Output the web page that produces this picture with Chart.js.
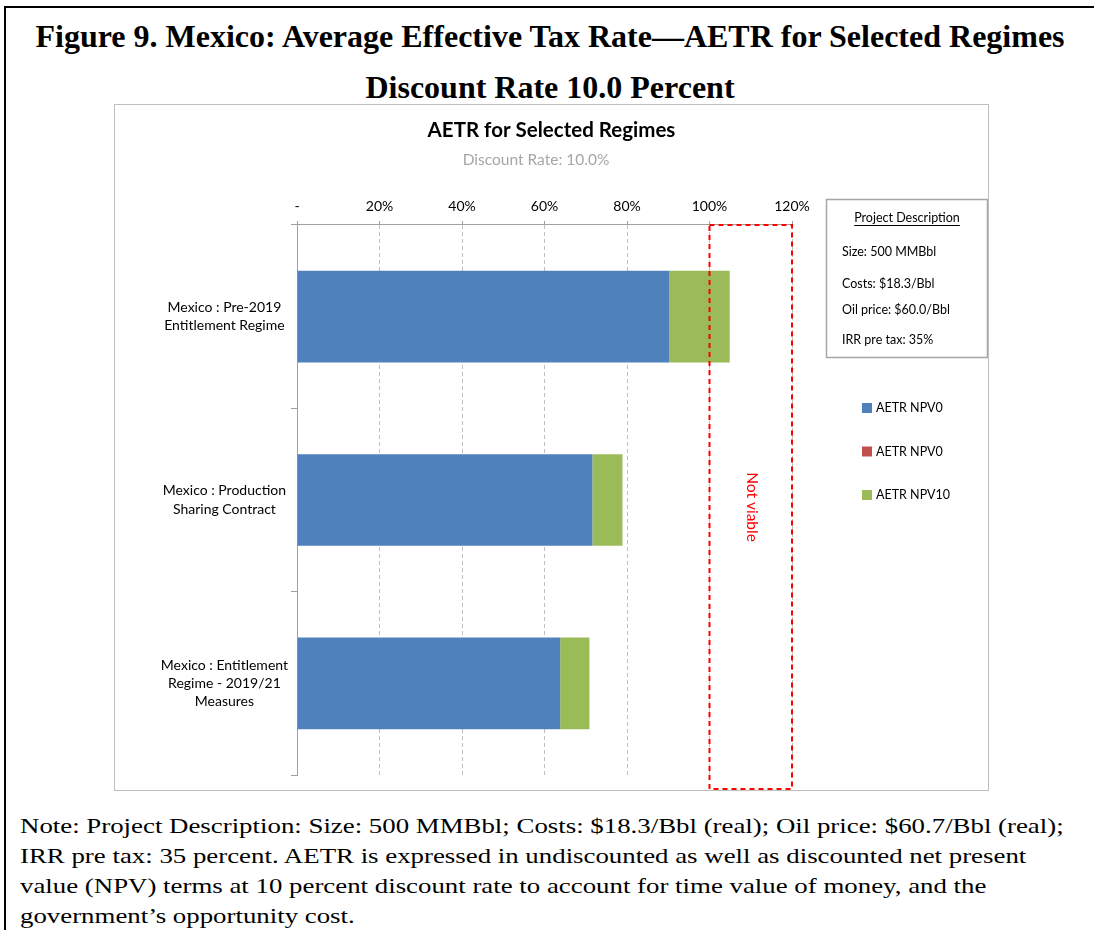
<!DOCTYPE html>
<html>
<head>
<meta charset="utf-8">
<script src="https://cdn.jsdelivr.net/npm/chart.js@4.4.1/dist/chart.umd.min.js"></script>
<style>
    body { margin: 0; background: #fff; width: 1094px; height: 930px; overflow: hidden; position: relative; }
    #frame { position: absolute; left: 4px; top: 6px; width: 1090px; height: 930px; border-top: 2px solid #000; border-left: 2px solid #000; }
    .fig-title { position: absolute; left: 0; width: 1100px; text-align: center; font-family: "Liberation Serif", "Times New Roman", serif; font-weight: bold; font-size: 32px; color: #000; }
    #chartBox { position: absolute; left: 114px; top: 104px; width: 873px; height: 685px; border: 1px solid #bfbfbf; }
    #note { position: absolute; left: 20px; top: 811px; font-family: "Liberation Serif", "Times New Roman", serif; font-size: 22px; line-height: 30px; color: #000; white-space: nowrap; transform: scaleX(1.22); transform-origin: 0 0; }
</style>
</head>
<body>
<div id="frame"></div>
<div class="fig-title" style="top:18px">Figure 9. Mexico: Average Effective Tax Rate—AETR for Selected Regimes</div>
<div class="fig-title" style="top:69px">Discount Rate 10.0 Percent</div>
<div id="chartBox"><canvas id="aetrChart" width="873" height="685"></canvas></div>
<div id="note">Note: Project Description: Size: 500 MMBbl; Costs: $18.3/Bbl (real); Oil price: $60.7/Bbl (real);<br>IRR pre tax: 35 percent. AETR is expressed in undiscounted as well as discounted net present<br>value (NPV) terms at 10 percent discount rate to account for time value of money, and the<br>government’s opportunity cost.</div>
<script>
// regimes, top to bottom
var regimes = [
    ['Mexico : Pre-2019', 'Entitlement Regime'],
    ['Mexico : Production', 'Sharing Contract'],
    ['Mexico : Entitlement', 'Regime - 2019/21', 'Measures']
];
// stacked segments, in percent
var aetrNpv0 = [90.3, 71.6, 63.8];
var aetrNpv0b = [0, 0, 0];
var aetrNpv10 = [14.6, 7.3, 7.1];
var xTicks = [0, 20, 40, 60, 80, 100, 120];
var notViable = [100, 120];
var descTitle = 'Project Description';
var descLines = ['Size: 500 MMBbl', 'Costs: $18.3/Bbl', 'Oil price: $60.0/Bbl', 'IRR pre tax: 35%'];

var FONT = 'Lato, "Open Sans", sans-serif';

var extras = {
    id: 'extras',
    afterDraw: function (chart) {
        var ctx = chart.ctx;
        var xs = chart.scales.x;
        var area = chart.chartArea;

        // not viable zone
        var x1 = xs.getPixelForValue(notViable[0]);
        var x2 = xs.getPixelForValue(notViable[1]);
        ctx.save();
        ctx.strokeStyle = '#ff0000';
        ctx.lineWidth = 2;
        ctx.setLineDash([5, 4]);
        ctx.strokeRect(x1, area.top, x2 - x1, chart.height - 1 - area.top);
        ctx.restore();

        ctx.save();
        ctx.translate((x1 + x2) / 2 + 1, 402);
        ctx.rotate(Math.PI / 2);
        ctx.fillStyle = '#ff0000';
        ctx.font = '15.5px ' + FONT;
        ctx.textAlign = 'center';
        ctx.textBaseline = 'middle';
        ctx.fillText('Not viable', 0, 0);
        ctx.restore();

        // project description box
        ctx.save();
        ctx.strokeStyle = '#a6a6a6';
        ctx.lineWidth = 1.5;
        ctx.strokeRect(711.5, 94.5, 161, 158);
        ctx.fillStyle = '#000';
        ctx.font = '12.5px ' + FONT;
        ctx.textBaseline = 'middle';
        ctx.textAlign = 'center';
        ctx.fillText(descTitle, 792, 113);
        var w = ctx.measureText(descTitle).width;
        ctx.fillRect(792 - w / 2, 120, w, 1);
        ctx.textAlign = 'left';
        var ys = [147, 179, 205, 235];
        descLines.forEach(function (t, i) { ctx.fillText(t, 727, ys[i]); });

        // legend
        ctx.font = '12.5px ' + FONT;
        chart.data.datasets.forEach(function (ds, i) {
            var y = 303 + i * 43.5;
            ctx.fillStyle = ds.backgroundColor;
            ctx.fillRect(747, y - 5, 10, 10);
            ctx.fillStyle = '#000';
            ctx.fillText(ds.label, 761, y);
        });
        ctx.restore();
    }
};

new Chart(document.getElementById('aetrChart'), {
    type: 'bar',
    data: {
        labels: regimes,
        datasets: [
            { label: 'AETR NPV0', data: aetrNpv0, backgroundColor: '#4f81bd' },
            { label: 'AETR NPV0', data: aetrNpv0b, backgroundColor: '#c0504d' },
            { label: 'AETR NPV10', data: aetrNpv10, backgroundColor: '#9bbb59' }
        ]
    },
    options: {
        indexAxis: 'y',
        responsive: false,
        animation: false,
        devicePixelRatio: 1,
        datasets: { bar: { barPercentage: 0.5, categoryPercentage: 1, borderWidth: 0 } },
        layout: { padding: { left: 0, right: 0, top: 0, bottom: 15 } },
        plugins: {
            legend: { display: false },
            tooltip: { enabled: false },
            title: {
                display: true,
                text: 'AETR for Selected Regimes',
                color: '#000',
                font: { family: FONT, size: 20.5, weight: 'bold', lineHeight: 1.2 },
                padding: { top: 13, bottom: 3 }
            },
            subtitle: {
                display: true,
                // trailing em spaces push the subtitle a little left of centre, as in the original
                text: 'Discount Rate: 10.0%\u2003\u2003\u2002',
                color: '#a6a6a6',
                font: { family: FONT, size: 15.5, lineHeight: 1.2 },
                padding: { top: 5, bottom: 0 }
            }
        },
        scales: {
            x: {
                position: 'top',
                stacked: true,
                min: 0,
                max: 120,
                afterBuildTicks: function (scale) {
                    scale.ticks = xTicks.map(function (v) { return { value: v }; });
                },
                afterFit: function (scale) { scale.height = 119 - 63.2; },
                ticks: {
                    color: '#000',
                    font: { family: FONT, size: 14 },
                    padding: 6,
                    maxRotation: 0,
                    callback: function (v) { return v === 0 ? '-' : v + '%'; }
                },
                grid: {
                    color: '#bfbfbf',
                    tickLength: 4,
                    tickColor: '#a0a0a0',
                    tickBorderDash: [],
                    lineWidth: 1
                },
                border: { color: '#a0a0a0', dash: [4, 3] }
            },
            y: {
                stacked: true,
                afterFit: function (scale) {
                    scale.width = 182;
                    scale.paddingTop = 0;
                    scale.paddingBottom = 0;
                },
                ticks: {
                    color: '#000',
                    font: { family: FONT, size: 14, lineHeight: 1.3 },
                    crossAlign: 'center',
                    padding: 3
                },
                grid: {
                    drawOnChartArea: false,
                    tickLength: 6,
                    color: '#a0a0a0'
                },
                border: { color: '#a0a0a0' }
            },
            // empty right-hand space where the description box and legend sit
            side: {
                type: 'category',
                position: 'right',
                afterFit: function (scale) {
                    scale.width = 196;
                    scale.paddingTop = 0;
                    scale.paddingBottom = 0;
                },
                ticks: { display: false },
                grid: { display: false },
                border: { display: false }
            }
        }
    },
    plugins: [extras]
});
</script>
</body>
</html>
